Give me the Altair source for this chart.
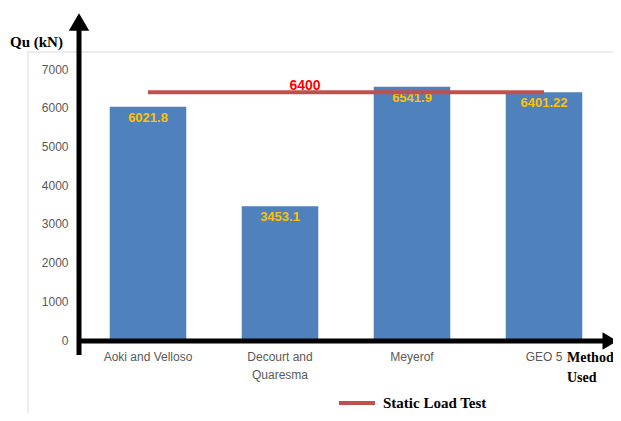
import altair as alt
import pandas as pd

methods = ["Aoki and Velloso", "Decourt and Quaresma", "Meyerof", "GEO 5"]
qu_values = [6021.8, 3453.1, 6541.9, 6401.22]
qu_labels = ["6021.8", "3453.1", "6541.9", "6401.22"]
static_load = 6400
static_label = "6400"
series_name = "Static Load Test"
y_ticks = [0, 1000, 2000, 3000, 4000, 5000, 6000, 7000]

bars_df = pd.DataFrame({"method": methods, "qu": qu_values, "label": qu_labels})
line_df = pd.DataFrame({
    "method": [methods[0], methods[-1]],
    "qu": [static_load, static_load],
    "series": [series_name, series_name],
})
lbl_df = pd.DataFrame({"method": [methods[1]], "qu": [static_load], "label": [static_label]})
one = pd.DataFrame({"a": [0]})

W, H = 528, 271

x_scale = alt.Scale(domain=methods, paddingInner=0.42, paddingOuter=0.21)
y_scale = alt.Scale(domain=[0, 7000], nice=False)

x_axis = alt.Axis(
    title=None, ticks=False, domain=False, grid=False,
    labelAngle=0, labelColor="#595959", labelFontSize=12,
    labelFont="Liberation Sans", labelPadding=11, labelLineHeight=18,
    labelExpr="datum.value == 'Decourt and Quaresma' ? ['Decourt and', 'Quaresma'] : datum.value",
)
y_axis = alt.Axis(
    title=None, ticks=False, domain=False, grid=False, values=y_ticks,
    format="d", labelOverlap=False,
    labelColor="#595959", labelFontSize=12, labelFont="Liberation Sans",
    labelPadding=14,
)

X = alt.X("method:N", sort=methods, scale=x_scale, axis=x_axis)
Y = alt.Y("qu:Q", scale=y_scale, axis=y_axis)

border = alt.Chart(one).mark_rect(filled=False, stroke="#D9D9D9", strokeWidth=1).encode(
    x=alt.value(-54), x2=alt.value(600), y=alt.value(-17), y2=alt.value(420)
)

bars = alt.Chart(bars_df).mark_bar(color="#4F81BD").encode(x=X, y=Y)

bar_text = alt.Chart(bars_df).mark_text(
    baseline="top", dy=5, color="#FFC000", fontWeight="bold", fontSize=13,
    font="Liberation Sans",
).encode(x=X, y=Y, text="label:N")

line = alt.Chart(line_df).mark_line(strokeWidth=4).encode(
    x=X, y=Y,
    color=alt.Color(
        "series:N",
        scale=alt.Scale(range=["#C0504D"]),
        legend=alt.Legend(
            orient="none", legendX=255, legendY=314, title=None,
            symbolType="stroke", symbolStrokeWidth=4, symbolSize=1296,
            labelFont="Liberation Serif", labelFontSize=15, labelFontWeight="bold",
            labelColor="black", labelOffset=6,
        ),
    ),
)

line_text = alt.Chart(lbl_df).mark_text(
    dx=25, dy=-6, color="#FF0000", fontWeight="bold", fontSize=14,
    font="Liberation Sans",
).encode(x=X, y=Y, text="label:N")

v_axis_line = alt.Chart(one).mark_rule(color="black", strokeWidth=5).encode(
    x=alt.value(-3), y=alt.value(-40), y2=alt.value(286)
)
h_axis_line = alt.Chart(one).mark_rule(color="black", strokeWidth=5).encode(
    x=alt.value(-5), x2=alt.value(522), y=alt.value(272)
)
up_arrow = alt.Chart(one).mark_point(shape="triangle-up", filled=True, color="black", size=420, opacity=1).encode(
    x=alt.value(-3), y=alt.value(-47)
)
right_arrow = alt.Chart(one).mark_point(shape="triangle-right", filled=True, color="black", size=300, opacity=1).encode(
    x=alt.value(528), y=alt.value(272)
)

qu_title = alt.Chart(one).mark_text(
    text="Qu (kN)", align="left", baseline="middle", font="Liberation Serif",
    fontWeight="bold", fontSize=15, color="black",
).encode(x=alt.value(-72), y=alt.value(-27))

method_title = alt.Chart(one).mark_text(
    text=["Method", "Used"], align="left", baseline="middle", font="Liberation Serif",
    fontWeight="bold", fontSize=14, color="black", lineHeight=20,
).encode(x=alt.value(485), y=alt.value(289))

chart = alt.layer(
    border, bars, bar_text, line, line_text,
    v_axis_line, h_axis_line, up_arrow, right_arrow, qu_title, method_title,
).properties(
    width=W, height=H,
    autosize=alt.AutoSizeParams(type="none"),
    padding={"left": 74, "top": 61, "right": 3, "bottom": 73},
).configure_view(stroke=None)

chart.save("out.html", embed_options={"renderer": "svg", "actions": False})
